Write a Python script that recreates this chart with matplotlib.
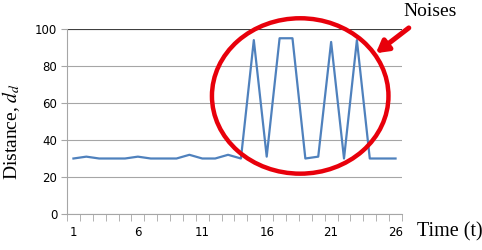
import numpy as np
import matplotlib
matplotlib.use("Agg")
import matplotlib.pyplot as plt
from matplotlib.patches import Ellipse

# Data
time = np.arange(1, 27)
distance = [30, 31, 30, 30, 30, 31, 30, 30, 30, 32, 30, 30, 32, 30,
            94, 31, 95, 95, 30, 31, 93, 30, 94, 30, 30, 30]
xtick_labels = [1, 6, 11, 16, 21, 26]
ytick_vals = [0, 20, 40, 60, 80, 100]

plt.rcParams["mathtext.fontset"] = "stix"

fig = plt.figure(figsize=(4.82, 2.5), dpi=100)
ax = fig.add_axes([0.139, 0.144, 0.695, 0.74])

ax.plot(time, distance, color="#4F81BD", lw=1.6, zorder=3)

ax.set_xlim(0.5, 26.5)
ax.set_ylim(0, 100)

# grid + spines, Excel style
ax.set_yticks(ytick_vals)
ax.yaxis.grid(True, color="#A6A6A6", lw=0.8)
ax.set_axisbelow(True)
for s in ["top", "right"]:
    ax.spines[s].set_visible(False)
ax.spines["left"].set_color("#A6A6A6")
ax.spines["bottom"].set_color("#A6A6A6")
ax.axhline(100, color="#404040", lw=0.8, zorder=1)

ax.set_xticks(xtick_labels)
ax.set_xticks(np.arange(0.5, 27, 1), minor=True)
ax.tick_params(axis="x", which="major", length=0, pad=9, labelsize=8.5)
ax.tick_params(axis="x", which="minor", length=5, color="#A6A6A6")
ax.tick_params(axis="y", length=4, color="#A6A6A6", labelsize=8.5, pad=3)

serif = "Liberation Serif"
fig.text(0.022, 0.472, "Distance, $d_d$", fontfamily=serif, fontsize=14,
         rotation=90, ha="center", va="center")
fig.text(0.865, 0.055, "Time (t)", fontfamily=serif, fontsize=14.5, ha="left")
fig.text(0.893, 0.952, "Noises", fontfamily=serif, fontsize=14, ha="center", va="center")

# red circle around the noise
ell = Ellipse((18.6, 63.8), 13.7, 84, fill=False, ec="#E8000B", lw=3.2,
              clip_on=False, zorder=4)
ax.add_patch(ell)

ax.annotate("", xy=(24.3, 86), xytext=(27.2, 101.5), xycoords="data",
            arrowprops=dict(arrowstyle="-|>,head_length=0.7,head_width=0.4",
                            color="#E8000B", lw=3.6),
            annotation_clip=False)

fig.savefig("out.png", dpi=100)
